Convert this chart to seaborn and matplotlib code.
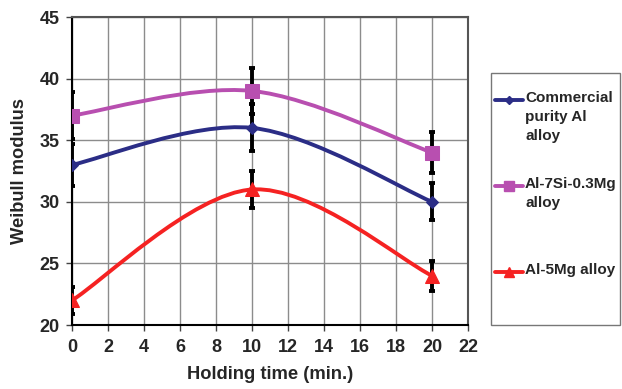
import numpy as np
import pandas as pd
import matplotlib
matplotlib.use("Agg")
import matplotlib.pyplot as plt
import seaborn as sns
from matplotlib.path import Path
from matplotlib.patches import PathPatch, Rectangle
from matplotlib.lines import Line2D

# ---- data ----
times = [0, 10, 20]
series_names = ["Commercial\npurity Al\nalloy", "Al-7Si-0.3Mg\nalloy", "Al-5Mg alloy"]
commercial = [33, 36, 30]
al7si = [37, 39, 34]
al5mg = [22, 31, 24]
commercial_err = [1.7, 1.9, 1.5]
al7si_err = [1.9, 1.9, 1.7]
al5mg_err = [1.1, 1.5, 1.2]
x_ticks = list(range(0, 23, 2))
y_ticks = [20, 25, 30, 35, 40, 45]

colors = ["#2B2D86", "#B84FB0", "#F52222"]
markers = ["D", "s", "^"]
msizes = [6, 10, 10]

sns.set_style("white")
plt.rcParams['font.family'] = ['Liberation Sans', 'DejaVu Sans']
plt.rcParams['font.weight'] = 'bold'

W, H = 622, 389
fig = plt.figure(figsize=(W / 100, H / 100), dpi=100)
ax = fig.add_axes([72 / W, 1 - 325 / H, (468 - 72) / W, (325 - 17) / H])

values = [commercial, al7si, al5mg]
errs = [commercial_err, al7si_err, al5mg_err]

def smooth_path(xs, ys):
    # Excel-like smoothed line rendered as cubic Bezier segments through the data points
    pts = np.column_stack([xs, ys]).astype(float)
    n = len(pts)
    verts = [pts[0]]
    codes = [Path.MOVETO]
    for i in range(n - 1):
        p0 = pts[i - 1] if i > 0 else pts[i]
        p1 = pts[i]
        p2 = pts[i + 1]
        p3 = pts[i + 2] if i + 2 < n else pts[i + 1]
        c1 = p1 + (p2 - p0) / 6.0
        c2 = p2 - (p3 - p1) / 6.0
        verts += [c1, c2, p2]
        codes += [Path.CURVE4] * 3
    return Path(verts, codes)

# error bars
for v, e in zip(values, errs):
    ax.errorbar(times, v, yerr=e, fmt='none', ecolor='black', elinewidth=2.8,
                capsize=2.5, capthick=2.8, zorder=2)

rows = []
for name, v in zip(series_names, values):
    for t, y in zip(times, v):
        rows.append({"time": t, "value": y, "series": name})
df = pd.DataFrame(rows)

for name, v, c, m, ms in zip(series_names, values, colors, markers, msizes):
    patch = PathPatch(smooth_path(times, v), facecolor='none', edgecolor=c, lw=2.8, zorder=3)
    ax.add_patch(patch)
    sub = df[df["series"] == name]
    sns.lineplot(data=sub, x="time", y="value", ax=ax, color=c, marker=m,
                 markersize=ms, markeredgecolor=c, linewidth=2.6, legend=False,
                 zorder=4, linestyle='none')

ax.set_xlim(0, 22)
ax.set_ylim(20, 45)
ax.set_xticks(x_ticks)
ax.set_yticks(y_ticks)
ax.tick_params(axis='both', labelsize=13, length=4, width=1, color='#444444', direction='out',
               left=True, bottom=True)
ax.tick_params(axis='x', pad=6)
ax.tick_params(axis='y', pad=5)
for lab in ax.get_xticklabels() + ax.get_yticklabels():
    lab.set_fontweight('bold')
ax.grid(True, color='#8C8C8C', lw=1)
ax.set_axisbelow(True)
for s in ['left', 'bottom']:
    ax.spines[s].set_color('black')
    ax.spines[s].set_linewidth(1.5)
for s in ['top', 'right']:
    ax.spines[s].set_color('#555555')
    ax.spines[s].set_linewidth(1.5)
ax.set_xlabel("Holding time (min.)", fontsize=13.2, fontweight='bold', labelpad=7)
ax.set_ylabel("Weibull modulus", fontsize=13.2, fontweight='bold', labelpad=8)

# legend box (drawn manually to match the reference layout)
fig.patches.append(Rectangle((491 / W, 1 - 325 / H), (620 - 491) / W, (325 - 73) / H,
                             transform=fig.transFigure, facecolor='white',
                             edgecolor='#777777', lw=1))
handle_y = [100, 186, 272]
for name, c, m, ms, hy in zip(series_names, colors, markers, msizes, handle_y):
    yf = 1 - hy / H
    fig.add_artist(Line2D([495 / W, 523 / W], [yf, yf], transform=fig.transFigure,
                          color=c, lw=2.8))
    fig.add_artist(Line2D([509 / W], [yf], transform=fig.transFigure, color=c,
                          marker=m, markersize=ms * 0.75, markeredgecolor=c, lw=0))
    fig.text(525 / W, 1 - (hy - 9) / H, name, fontsize=11, fontweight='bold',
             va='top', ha='left', linespacing=1.45)

fig.savefig("out.png", dpi=100)
